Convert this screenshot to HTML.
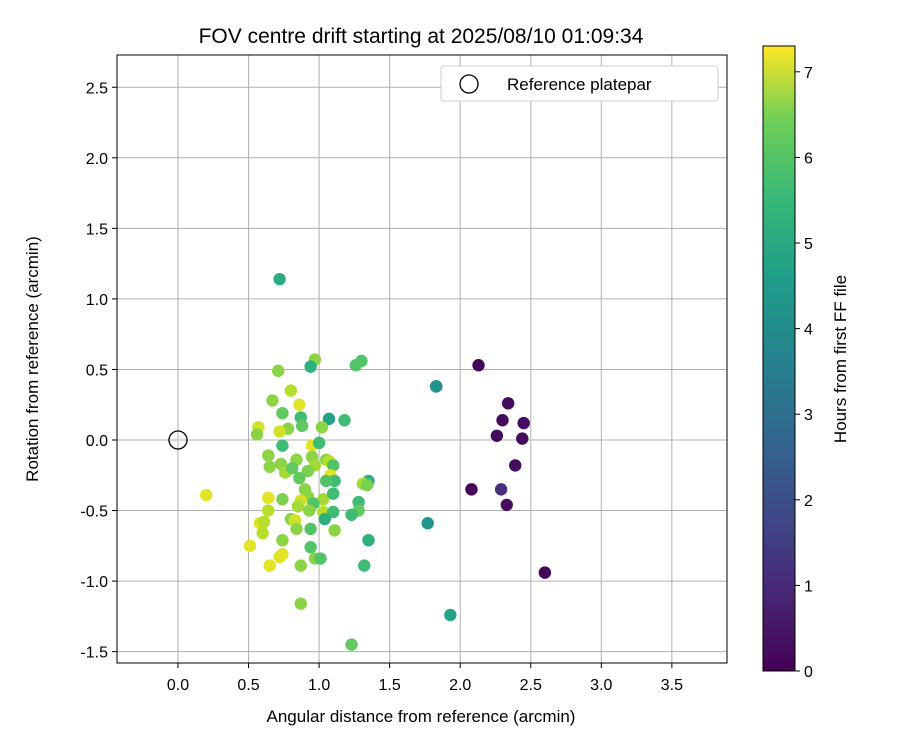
<!DOCTYPE html>
<html><head><meta charset="utf-8"><style>body{margin:0;background:#fff}svg text{font-family:"Liberation Sans",sans-serif;fill:#000}</style></head>
<body>
<svg id="c" width="900" height="750" xmlns="http://www.w3.org/2000/svg">
<defs><linearGradient id="vg" x1="0" y1="1" x2="0" y2="0">
<stop offset="0" stop-color="#440154"/><stop offset="0.13" stop-color="#482878"/><stop offset="0.25" stop-color="#3e4989"/><stop offset="0.38" stop-color="#31688e"/><stop offset="0.5" stop-color="#26828e"/><stop offset="0.63" stop-color="#1f9e89"/><stop offset="0.75" stop-color="#35b779"/><stop offset="0.88" stop-color="#6ece58"/><stop offset="1" stop-color="#fde725"/></linearGradient></defs>
<g id="grid"></g>
<g id="pts"></g>
<rect x="117" y="55" width="610" height="608" fill="none" stroke="#000" stroke-width="1"/>
<g id="ticks"></g>
<text x="421" y="43" font-size="21" text-anchor="middle">FOV centre drift starting at 2025/08/10 01:09:34</text>
<text x="421" y="722" font-size="17" text-anchor="middle">Angular distance from reference (arcmin)</text>
<text x="38" y="359" font-size="17" text-anchor="middle" transform="rotate(-90 38 359)">Rotation from reference (arcmin)</text>
<g>
<rect x="441" y="66" width="277" height="35" rx="3" fill="#fff" stroke="#ccc"/>
<circle cx="469" cy="84" r="9" fill="none" stroke="#000" stroke-width="1.3"/>
<text x="507" y="90" font-size="17">Reference platepar</text>
</g>
<rect x="763" y="46" width="32" height="625" fill="url(#vg)" stroke="#000" stroke-width="1"/>
<g id="cb"></g>
<text x="846" y="359" font-size="17" text-anchor="middle" transform="rotate(-90 846 359)">Hours from first FF file</text>
</svg>
<script>
const xs=[2.13,2.34,2.30,2.45,2.26,2.44,2.39,2.08,2.33,2.60,2.29,1.83,1.83,1.83,1.77,1.93,0.72,
0.71,0.97,0.94,1.26,1.30,0.80,0.67,0.86,0.74,0.87,1.07,1.18,0.88,0.78,0.72,1.02,0.57,0.56,0.74,0.95,1.00,0.64,0.65,0.73,0.84,0.95,0.97,1.05,1.07,1.10,0.76,0.81,0.92,1.08,1.11,1.35,0.86,1.05,0.90,1.31,1.34,0.20,0.64,0.74,0.92,1.03,1.10,0.87,0.85,0.96,1.28,0.64,0.93,1.03,1.10,1.28,1.23,1.04,0.80,0.83,0.58,0.61,0.84,0.94,1.11,0.60,1.35,0.74,0.51,0.94,0.74,0.72,0.97,1.01,0.65,0.87,1.32,0.87,1.23];
const ys=[0.53,0.26,0.14,0.12,0.03,0.01,-0.18,-0.35,-0.46,-0.94,-0.35,0.38,0.38,0.38,-0.59,-1.24,1.14,
0.49,0.57,0.52,0.53,0.56,0.35,0.28,0.25,0.19,0.16,0.15,0.14,0.10,0.08,0.06,0.09,0.09,0.04,-0.04,-0.04,-0.02,-0.11,-0.19,-0.17,-0.14,-0.12,-0.18,-0.14,-0.15,-0.18,-0.23,-0.20,-0.22,-0.25,-0.29,-0.29,-0.27,-0.29,-0.35,-0.31,-0.32,-0.39,-0.41,-0.42,-0.40,-0.42,-0.38,-0.43,-0.47,-0.45,-0.44,-0.50,-0.50,-0.51,-0.51,-0.50,-0.53,-0.56,-0.56,-0.57,-0.59,-0.58,-0.63,-0.63,-0.64,-0.66,-0.71,-0.71,-0.75,-0.76,-0.81,-0.83,-0.84,-0.84,-0.89,-0.89,-0.89,-1.16,-1.45];
const hours=[0.1,0.2,0.2,0.2,0.2,0.2,0.2,0.05,0.3,0.1,1.0,3.7,3.7,3.7,3.8,4.2,4.5,
6,6,4.6,5.3,5.3,6.5,6,7,5.5,5,4.2,5,5.5,6,6.8,6,6.8,6,5,7,5,6,6,6,6,6,6.3,6,6.5,5.3,6.3,5.5,5.8,7,5,4.6,5.5,5.3,6,6.3,5.8,7,7,5.8,6,6.3,5,6.8,6.3,5.3,5,6.5,6,6.5,5,5.5,5,4.6,6,6.8,7,6.5,6,5.3,6,6.5,4.6,6,7,5.3,7,7,6,5.3,7,6,5,6,5.5];
const xTicks=[0,0.5,1,1.5,2,2.5,3,3.5], yTicks=[2.5,2,1.5,1,0.5,0,-0.5,-1,-1.5], cbTicks=[0,1,2,3,4,5,6,7];
const X=v=>178+v*141.1, Y=v=>440-v*141.1, C=v=>671-v*85.6;
const vir=[[68,1,84],[72,40,120],[62,73,137],[49,104,142],[38,130,142],[31,158,137],[53,183,121],[110,206,88],[181,222,43],[253,231,37]];
function col(t){let f=Math.max(0,Math.min(1,t/7.3))*9,i=Math.min(8,Math.floor(f)),r=f-i,a=vir[i],b=vir[i+1];return `rgb(${a.map((v,k)=>Math.round(v+(b[k]-v)*r)).join(',')})`;}
const NS='http://www.w3.org/2000/svg';
function mk(p,t,at){const e=document.createElementNS(NS,t);for(const k in at)e.setAttribute(k,at[k]);document.getElementById(p).appendChild(e);return e;}
xTicks.forEach(v=>{const g=mk('grid','line',{x1:X(v),x2:X(v),y1:55,y2:663,stroke:'#b0b0b0','stroke-width':1});

const t=mk('ticks','line',{x1:X(v),x2:X(v),y1:663,y2:668,stroke:'#000'});
const l=mk('ticks','text',{x:X(v),y:690,'font-size':16,'text-anchor':'middle'});l.textContent=v.toFixed(1);
});
yTicks.forEach(v=>{const g=mk('grid','line',{x1:117,x2:727,y1:Y(v),y2:Y(v),stroke:'#b0b0b0','stroke-width':1});

const t=mk('ticks','line',{x1:112,x2:117,y1:Y(v),y2:Y(v),stroke:'#000'});
const l=mk('ticks','text',{x:108,y:Y(v)+6,'font-size':16,'text-anchor':'end'});l.textContent=v.toFixed(1);
});
cbTicks.forEach(v=>{const t=mk('cb','line',{x1:795,x2:800,y1:C(v),y2:C(v),stroke:'#000'});
const l=mk('cb','text',{x:804,y:C(v)+6,'font-size':16});l.textContent=v;});
xs.forEach((v,i)=>{const c=mk('pts','circle',{cx:X(v),cy:Y(ys[i]),r:6.2,fill:col(hours[i])});
});
const r=mk('pts','circle',{cx:X(0),cy:Y(0),r:9,fill:'none',stroke:'#000','stroke-width':1.3});

</script>
</body></html>
